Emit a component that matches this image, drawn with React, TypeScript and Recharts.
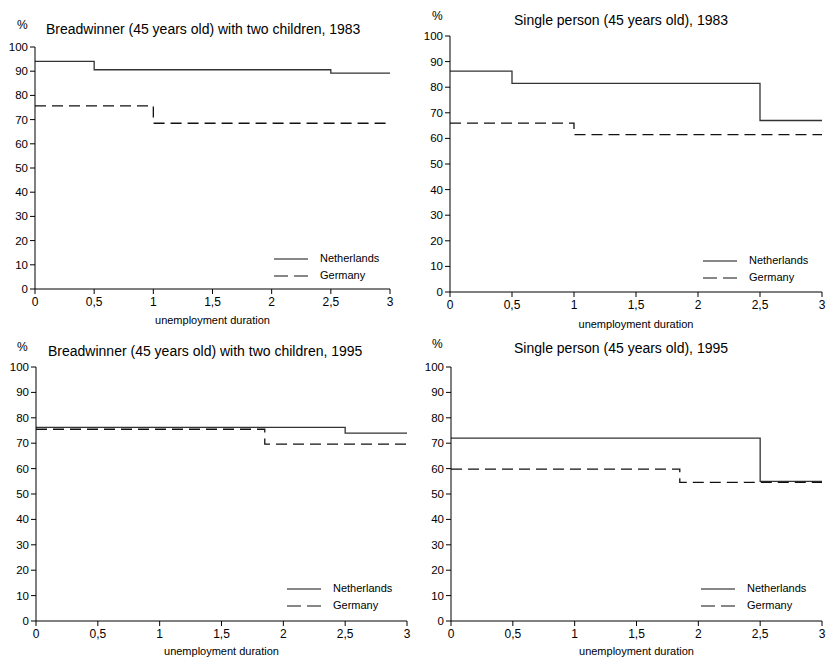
import { LineChart, Line, XAxis, YAxis, Legend } from 'recharts';

// unemployment duration (years) where each benefit level starts
const BREAD83_NL_X = [0, 0.5, 2.5, 3];
const BREAD83_NL_Y = [94.1, 90.6, 89.2, 89.2];
const BREAD83_DE_X = [0, 1, 3];
const BREAD83_DE_Y = [75.7, 68.5, 68.5];

const SINGLE83_NL_X = [0, 0.5, 2.5, 3];
const SINGLE83_NL_Y = [86.3, 81.5, 67, 67];
const SINGLE83_DE_X = [0, 1, 3];
const SINGLE83_DE_Y = [66, 61.5, 61.5];

const BREAD95_NL_X = [0, 2.5, 3];
const BREAD95_NL_Y = [76.2, 74, 74];
const BREAD95_DE_X = [0, 1.85, 3];
const BREAD95_DE_Y = [75.5, 69.6, 69.6];

const SINGLE95_NL_X = [0, 2.5, 3];
const SINGLE95_NL_Y = [72, 55, 55];
const SINGLE95_DE_X = [0, 1.85, 3];
const SINGLE95_DE_Y = [59.8, 54.6, 54.6];

const X_TICKS = [0, 0.5, 1, 1.5, 2, 2.5, 3];
const Y_TICKS = [0, 10, 20, 30, 40, 50, 60, 70, 80, 90, 100];

const SERIES = ['Netherlands', 'Germany'];

const TITLES = [
  'Breadwinner (45 years old) with two children, 1983',
  'Single person (45 years old), 1983',
  'Breadwinner (45 years old) with two children, 1995',
  'Single person (45 years old), 1995',
];

const FONT = '"Liberation Sans", Arial, sans-serif';
const DASH = '11 6';
const LEGEND_DASH = '14 6';

const toPoints = (xs: number[], ys: number[]) => xs.map((d, i) => ({ d, v: ys[i] }));

type Panel = {
  title: string;
  nl: { d: number; v: number }[];
  de: { d: number; v: number }[];
  left: number;
  top: number;
  width: number;
  height: number;
  yAxisWidth: number;
  marginTop: number;
  marginRight: number;
  xAxisHeight: number;
  labelOffset: number;
  titleX: number;
  titleY: number;
  legendX: number;
  legendY: number;
};

const PANELS: Panel[] = [
  {
    title: TITLES[0],
    nl: toPoints(BREAD83_NL_X, BREAD83_NL_Y),
    de: toPoints(BREAD83_DE_X, BREAD83_DE_Y),
    left: 0, top: 0, width: 400, height: 330,
    yAxisWidth: 35, marginTop: 47, marginRight: 10, xAxisHeight: 41, labelOffset: 6,
    titleX: 46, titleY: 29, legendX: 274, legendY: 250,
  },
  {
    title: TITLES[1],
    nl: toPoints(SINGLE83_NL_X, SINGLE83_NL_Y),
    de: toPoints(SINGLE83_DE_X, SINGLE83_DE_Y),
    left: 415, top: 0, width: 412, height: 335,
    yAxisWidth: 35, marginTop: 36, marginRight: 5, xAxisHeight: 43, labelOffset: 7,
    titleX: 99, titleY: 20, legendX: 288, legendY: 252,
  },
  {
    title: TITLES[2],
    nl: toPoints(BREAD95_NL_X, BREAD95_NL_Y),
    de: toPoints(BREAD95_DE_X, BREAD95_DE_Y),
    left: 0, top: 335, width: 420, height: 324,
    yAxisWidth: 36, marginTop: 32, marginRight: 13, xAxisHeight: 38, labelOffset: 4,
    titleX: 48, titleY: 16, legendX: 287, legendY: 245,
  },
  {
    title: TITLES[3],
    nl: toPoints(SINGLE95_NL_X, SINGLE95_NL_Y),
    de: toPoints(SINGLE95_DE_X, SINGLE95_DE_Y),
    left: 415, top: 335, width: 412, height: 324,
    yAxisWidth: 36, marginTop: 32, marginRight: 5, xAxisHeight: 38, labelOffset: 4,
    titleX: 99, titleY: 13, legendX: 286, legendY: 245,
  },
];

const formatDuration = (v: number) => String(v).replace('.', ',');

function LegendRows({ payload }: any) {
  const rows = [...(payload || [])].sort(
    (a: any, b: any) => SERIES.indexOf(a.value) - SERIES.indexOf(b.value)
  );
  return (
    <div style={{ fontFamily: FONT, fontSize: 11, color: '#000' }}>
      {rows.map((entry: any) => (
        <div key={entry.value} style={{ display: 'flex', alignItems: 'center', height: 17 }}>
          <svg width={34} height={6} style={{ display: 'block' }}>
            <line
              x1={0}
              y1={3}
              x2={34}
              y2={3}
              stroke="#111"
              strokeWidth={1.2}
              strokeDasharray={entry.payload?.strokeDasharray ? LEGEND_DASH : undefined}
            />
          </svg>
          <span style={{ marginLeft: 12, lineHeight: '17px' }}>{entry.value}</span>
        </div>
      ))}
    </div>
  );
}

function StepPanel({ p }: { p: Panel }) {
  return (
    <div style={{ position: 'absolute', left: p.left, top: p.top, width: p.width, height: p.height }}>
      <div
        style={{
          position: 'absolute',
          left: 17,
          top: p.titleY - 4 - 8,
          fontFamily: FONT,
          fontSize: 12,
          lineHeight: '16px',
        }}
      >
        %
      </div>
      <div
        style={{
          position: 'absolute',
          left: p.titleX,
          top: p.titleY - 8,
          fontFamily: FONT,
          fontSize: 14,
          lineHeight: '16px',
          whiteSpace: 'nowrap',
        }}
      >
        {p.title}
      </div>
      <LineChart
        width={p.width}
        height={p.height}
        margin={{ top: p.marginTop, right: p.marginRight, bottom: 0, left: 0 }}
        style={{ fontFamily: FONT }}
      >
        <XAxis
          dataKey="d"
          type="number"
          domain={[0, 3]}
          ticks={X_TICKS}
          tickFormatter={formatDuration}
          height={p.xAxisHeight}
          stroke="#000"
          tickSize={5}
          tickMargin={3}
          tick={{ fill: '#000', fontSize: 12, fontFamily: FONT }}
          allowDuplicatedCategory={false}
          label={{
            value: 'unemployment duration',
            position: 'insideBottom',
            offset: p.labelOffset,
            fill: '#000',
            fontSize: 11,
            fontFamily: FONT,
          }}
        />
        <YAxis
          type="number"
          domain={[0, 100]}
          ticks={Y_TICKS}
          width={p.yAxisWidth}
          stroke="#000"
          tickSize={5}
          tickMargin={2}
          tick={{ fill: '#000', fontSize: 11.5, fontFamily: FONT }}
        />
        <Legend
          layout="horizontal"
          verticalAlign="middle"
          align="center"
          content={<LegendRows />}
          wrapperStyle={{ left: p.legendX, top: p.legendY, width: 'auto' }}
        />
        <Line
          data={p.nl}
          dataKey="v"
          name="Netherlands"
          type="stepAfter"
          stroke="#333"
          strokeWidth={1.3}
          dot={false}
          activeDot={false}
          isAnimationActive={false}
        />
        <Line
          data={p.de}
          dataKey="v"
          name="Germany"
          type="stepAfter"
          stroke="#111"
          strokeWidth={1.3}
          strokeDasharray={DASH}
          dot={false}
          activeDot={false}
          isAnimationActive={false}
        />
      </LineChart>
    </div>
  );
}

export default function App() {
  return (
    <div
      style={{
        position: 'absolute',
        left: 0,
        top: 0,
        width: 827,
        height: 659,
        background: '#fff',
        overflow: 'hidden',
      }}
    >
      {PANELS.map((p) => (
        <StepPanel key={p.title} p={p} />
      ))}
    </div>
  );
}
